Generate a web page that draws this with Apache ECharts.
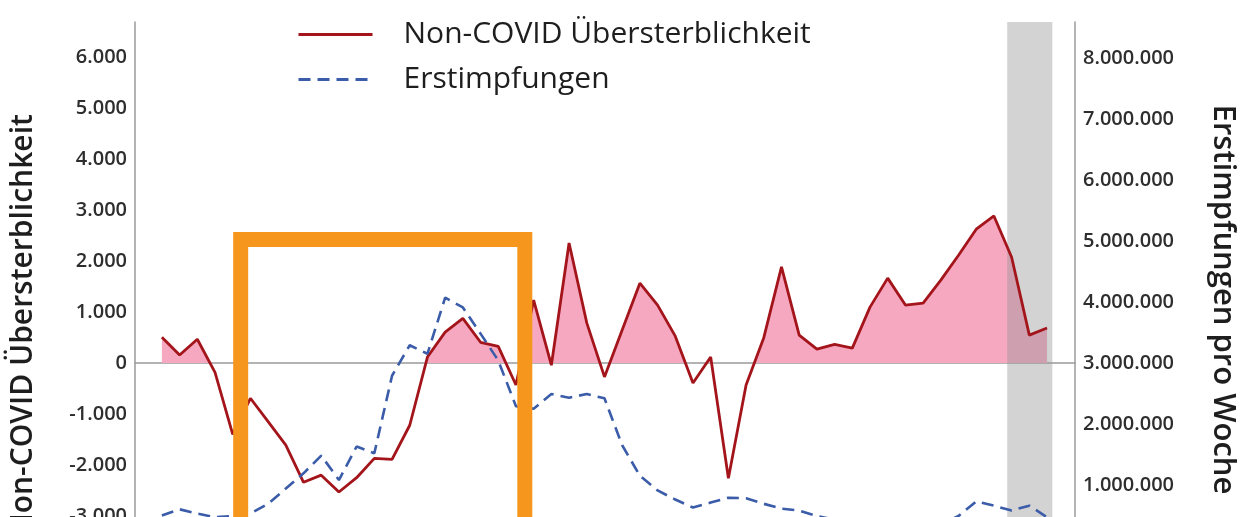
<!DOCTYPE html>
<html>
<head>
<meta charset="utf-8">
<script src="https://cdn.jsdelivr.net/npm/echarts@6/dist/echarts.min.js"></script>
<style>
  html, body { margin: 0; padding: 0; background: #fff; }
  #myChart { width: 1242px; height: 517px; }
</style>
</head>
<body>
<div id="myChart"></div>
<script>
// weeks are plotted as index positions 0..50
var weeks = [0, 1, 2, 3, 4, 5, 6, 7, 8, 9, 10, 11, 12, 13, 14, 15, 16, 17, 18, 19, 20,
  21, 22, 23, 24, 25, 26, 27, 28, 29, 30, 31, 32, 33, 34, 35, 36, 37, 38, 39, 40,
  41, 42, 43, 44, 45, 46, 47, 48, 49, 50];

// Non-COVID Übersterblichkeit (linke Achse)
var excessDeaths = [510, 160, 470, -180, -1400, -690, -1150, -1610, -2340, -2200,
  -2530, -2250, -1870, -1890, -1220, 120, 610, 880, 410, 330,
  -430, 1240, -40, 2360, 790, -270, 650, 1570, 1140, 530,
  -390, 120, -2260, -430, 500, 1890, 550, 275, 370, 295,
  1100, 1670, 1140, 1180, 1630, 2120, 2630, 2890, 2080, 550, 690];

// Erstimpfungen pro Woche (rechte Achse)
var firstDoses = [510000, 610000, 540000, 480000, 500000, 540000, 700000, 950000, 1200000, 1490000,
  1090000, 1640000, 1530000, 2800000, 3300000, 3160000, 4080000, 3920000, 3490000, 3050000,
  2300000, 2260000, 2500000, 2440000, 2500000, 2430000, 1660000, 1160000, 920000, 770000,
  640000, 720000, 800000, 790000, 700000, 620000, 590000, 500000, 440000, 400000,
  360000, 330000, 310000, 300000, 360000, 500000, 740000, 670000, 590000, 670000, 480000];

var leftTicks = [-4000, -3000, -2000, -1000, 0, 1000, 2000, 3000, 4000, 5000, 6000];
var rightTicks = [0, 1000000, 2000000, 3000000, 4000000, 5000000, 6000000, 7000000, 8000000];

// grey shaded weeks and the orange highlight box (in data units)
var greyBand = [47.75, 50.3];
var boxWeeks = [4.45, 20.5];
var boxTop = 2430;

var leftMin = -4200, leftMax = 6700;

function deNum (v) {
  var s = String(Math.abs(v)).replace(/\B(?=(\d{3})+(?!\d))/g, '.');
  return (v < 0 ? '-' : '') + s;
}

function pairs (ys) {
  return weeks.map(function (w, i) { return [w, ys[i]]; });
}

var font = '"Open Sans", "Noto Sans", sans-serif';
var myChart = echarts.init(document.getElementById('myChart'));

myChart.setOption({
  backgroundColor: '#ffffff',
  animation: false,
  textStyle: { fontFamily: font },
  grid: { left: 135, right: 167, top: 22, bottom: -60, outerBoundsMode: 'none' },
  legend: {
    data: ['Non-COVID Übersterblichkeit', 'Erstimpfungen'],
    orient: 'vertical',
    left: 292,
    top: 13,
    itemWidth: 74,
    itemHeight: 14,
    itemGap: 12,
    itemStyle: { opacity: 0 },
    lineStyle: { width: 3 },
    textStyle: { fontSize: 30, lineHeight: 33, color: '#1e1e1e', fontFamily: font, padding: [0, 0, 0, 26] }
  },
  visualMap: {
    show: false,
    type: 'piecewise',
    seriesIndex: 0,
    dimension: 1,
    pieces: [
      { gte: 0, lte: 10000, color: '#f7a8c1' },
      { gte: -10000, lt: 0, color: 'rgba(255,255,255,0)' }
    ]
  },
  xAxis: {
    type: 'value',
    min: -1.52,
    max: 51.58,
    axisLine: { show: true, onZero: true, lineStyle: { color: '#9a9a9a', width: 1.5 } },
    axisTick: { show: false },
    axisLabel: { show: false },
    splitLine: { show: false }
  },
  yAxis: [{
    type: 'value',
    min: leftMin,
    max: leftMax,
    name: 'Non-COVID Übersterblichkeit',
    nameLocation: 'middle',
    nameGap: 97,
    nameTextStyle: { fontSize: 30, fontWeight: 600, color: '#1e1e1e', fontFamily: font, padding: [0, 52, 0, 0] },
    axisLine: { show: true, onZero: false, lineStyle: { color: '#9a9a9a', width: 1.5 } },
    axisTick: { show: false },
    splitLine: { show: false },
    axisLabel: {
      customValues: leftTicks,
      formatter: deNum,
      fontSize: 20,
      fontWeight: 600,
      color: '#2e2e2e',
      margin: 8
    }
  }, {
    type: 'value',
    min: -500000,
    max: 8600000,
    position: 'right',
    name: 'Erstimpfungen pro Woche',
    nameLocation: 'middle',
    nameRotate: -90,
    nameGap: 132,
    nameTextStyle: { fontSize: 31, fontWeight: 600, color: '#1e1e1e', fontFamily: font },
    axisLine: { show: true, onZero: false, lineStyle: { color: '#9a9a9a', width: 1.5 } },
    axisTick: { show: false },
    splitLine: { show: false },
    axisLabel: {
      customValues: rightTicks,
      formatter: deNum,
      fontSize: 20,
      fontWeight: 600,
      color: '#2e2e2e',
      margin: 8
    }
  }],
  series: [
    {
      name: 'positive area',
      type: 'line',
      z: 1,
      data: pairs(excessDeaths),
      symbol: 'none',
      lineStyle: { opacity: 0, width: 0 },
      areaStyle: { opacity: 1 },
      silent: true
    },
    {
      name: 'Non-COVID Übersterblichkeit',
      type: 'line',
      z: 5,
      data: pairs(excessDeaths),
      symbol: 'none',
      itemStyle: { color: '#a3151b' },
      lineStyle: { color: '#a3151b', width: 2.8 },
      markArea: {
        silent: true,
        z: 3,
        itemStyle: { color: 'rgba(150,150,150,0.42)' },
        data: [[{ xAxis: greyBand[0] }, { xAxis: greyBand[1] }]]
      }
    },
    {
      name: 'Erstimpfungen',
      type: 'line',
      yAxisIndex: 1,
      z: 5,
      data: pairs(firstDoses),
      symbol: 'none',
      itemStyle: { color: '#3b5ca8' },
      lineStyle: { color: '#3b5ca8', width: 2.6, type: [12, 7] }
    }
  ]
});

// orange highlight box, placed through the chart's own scales
var p1 = myChart.convertToPixel({ gridIndex: 0 }, [boxWeeks[0], leftMin]);
var p2 = myChart.convertToPixel({ gridIndex: 0 }, [boxWeeks[0], boxTop]);
var p3 = myChart.convertToPixel({ gridIndex: 0 }, [boxWeeks[1], boxTop]);
var p4 = myChart.convertToPixel({ gridIndex: 0 }, [boxWeeks[1], leftMin]);
myChart.setOption({
  graphic: [{
    type: 'polyline',
    z: 100,
    shape: { points: [p1, p2, p3, p4] },
    style: { stroke: '#f7961c', lineWidth: 15, fill: null, lineJoin: 'miter' }
  }]
});
</script>
</body>
</html>
